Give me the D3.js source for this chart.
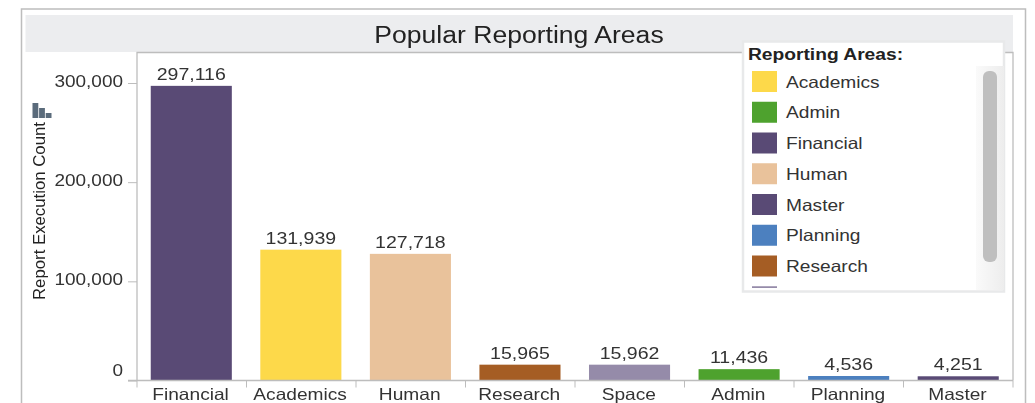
<!DOCTYPE html>
<html><head><meta charset="utf-8">
<script src="https://cdn.jsdelivr.net/npm/d3@7"></script>
<style>
html,body{margin:0;padding:0;background:#fff;overflow:hidden}
svg{display:block;font-family:"Liberation Sans",Arial,sans-serif}
.soft{filter:blur(0.5px)}
</style></head><body><svg id="c" width="1035" height="403"></svg>
<script>
const categories=["Financial","Academics","Human","Research","Space","Admin","Planning","Master"];
const values=[297116,131939,127718,15965,15962,11436,4536,4251];
const barColors=["#594a75","#fdd94a","#e9c29b","#a55d24","#958ba9","#4ea22e","#4c80bf","#594a75"];
const yTicks=[0,100000,200000,300000];
const legendNames=["Academics","Admin","Financial","Human","Master","Planning","Research","Space"];
const legendColors=["#fdd94a","#4ea22e","#594a75","#e9c29b","#594a75","#4c80bf","#a55d24","#958ba9"];
const titleText="Popular Reporting Areas";
const legendTitle="Reporting Areas:";
const yLabel="Report Execution Count";

const svg=d3.select("#c");
const root=svg.append("g").attr("class","soft");
const L=137,R=1013,T=52.5,B=380.5;
const x=d3.scaleBand().domain(categories).range([L-0.5,R]).paddingInner(0.26).paddingOuter(0.13);
const xTicks=d3.scaleBand().domain(categories).range([L,R]);
const y=d3.scaleLinear().domain([0,300000]).range([B,83]);

// widen text horizontally, as the source picture is stretched
function stretch(sel,k){
  sel.each(function(){
    const w=this.getComputedTextLength();
    d3.select(this).attr("textLength",w*k).attr("lengthAdjust","spacingAndGlyphs");
  });
}

root.append("path").attr("d","M21.5,403V9H1025.5V403").attr("fill","none").attr("stroke","#bdbdbd").attr("stroke-width",1.5);
root.append("rect").attr("x",25.5).attr("y",15).attr("width",987.5).attr("height",37).attr("fill","#ecedef");
root.append("text").attr("x",519).attr("y",43).attr("text-anchor","middle").attr("font-size",23.5).attr("fill","#222").text(titleText).call(stretch,1.13);

root.append("path").attr("d",`M${L},${B}V${T}H${R}V${B}`).attr("fill","none").attr("stroke","#bdbdbd").attr("stroke-width",1.3);

root.selectAll("rect.bar").data(categories).join("rect").attr("class","bar")
 .attr("x",d=>x(d)).attr("width",x.bandwidth())
 .attr("y",(d,i)=>y(values[i])).attr("height",(d,i)=>B-y(values[i]))
 .attr("fill",(d,i)=>barColors[i]);
root.selectAll("text.val").data(categories).join("text").attr("class","val")
 .attr("x",d=>x(d)+x.bandwidth()/2).attr("y",(d,i)=>y(values[i])-6)
 .attr("text-anchor","middle").attr("font-size",16).attr("fill","#333")
 .text((d,i)=>d3.format(",")(values[i])).call(stretch,1.22);

const ya=root.append("g").attr("transform",`translate(${L},0)`)
 .call(d3.axisLeft(y).tickValues(yTicks).tickSize(9).tickPadding(5).tickFormat(d3.format(",")));
ya.select(".domain").remove();
ya.selectAll("line").attr("stroke","#bdbdbd");
ya.selectAll("text").attr("font-size",16.5).attr("fill","#333").attr("font-family","inherit").attr("dy","0.22em").call(stretch,1.15);
ya.selectAll("text").filter(d=>d===0).attr("dy","-0.32em");

const xa=root.append("g").attr("transform",`translate(0,${B})`);
xa.append("line").attr("x1",L-9).attr("x2",R).attr("stroke","#bdbdbd").attr("stroke-width",1.3);
xa.selectAll("line.t").data(categories.concat(["end"])).join("line").attr("class","t")
 .attr("x1",(d,i)=>L+i*xTicks.step()).attr("x2",(d,i)=>L+i*xTicks.step()).attr("y2",7).attr("stroke","#bdbdbd");
xa.selectAll("text").data(categories).join("text")
 .attr("x",d=>x(d)+x.bandwidth()/2-0.7).attr("y",19).attr("text-anchor","middle")
 .attr("font-size",16.5).attr("fill","#333").text(d=>d).call(stretch,1.16);

root.append("text").attr("transform","translate(45,211) rotate(-90)").attr("text-anchor","middle")
 .attr("font-size",16).attr("fill","#222").attr("textLength",178).attr("lengthAdjust","spacingAndGlyphs").text(yLabel);
const iconHeights=[15,10,5];
root.selectAll("rect.icon").data(iconHeights).join("rect").attr("class","icon")
 .attr("x",(d,i)=>32.5+i*6.6).attr("width",5.8).attr("y",d=>118-d).attr("height",d=>d).attr("fill","#5a6b7b");

const defs=svg.append("defs");
const gr=defs.append("linearGradient").attr("id","track");
gr.append("stop").attr("offset","0").attr("stop-color","#fafafa");
gr.append("stop").attr("offset","1").attr("stop-color","#ededed");

const lg=root.append("g");
lg.append("rect").attr("x",743).attr("y",41.5).attr("width",261).attr("height",250).attr("fill","#fff").attr("stroke","#e8e9ea").attr("stroke-width",2.5);
lg.append("text").attr("x",748).attr("y",60).attr("font-size",16).attr("font-weight","bold").attr("fill","#222").text(legendTitle).call(stretch,1.2);
lg.append("clipPath").attr("id","lc").append("rect").attr("x",744).attr("y",66).attr("width",232).attr("height",222);
const li=lg.append("g").attr("clip-path","url(#lc)");
const ly=d3.scaleLinear().domain([0,1]).range([71,101.75]);
li.selectAll("rect").data(legendNames).join("rect").attr("x",752).attr("width",25).attr("height",21)
 .attr("y",(d,i)=>ly(i)).attr("fill",(d,i)=>legendColors[i]);
li.selectAll("text").data(legendNames).join("text").attr("x",786).attr("y",(d,i)=>ly(i)+16.5)
 .attr("font-size",16.5).attr("fill","#333").text(d=>d).call(stretch,1.16);
lg.append("rect").attr("x",976).attr("y",66).attr("width",28).attr("height",224).attr("fill","url(#track)");
lg.append("rect").attr("x",983).attr("y",71).attr("width",14).attr("height",191).attr("rx",6).attr("fill","#bfbfbf");
</script></body></html>
